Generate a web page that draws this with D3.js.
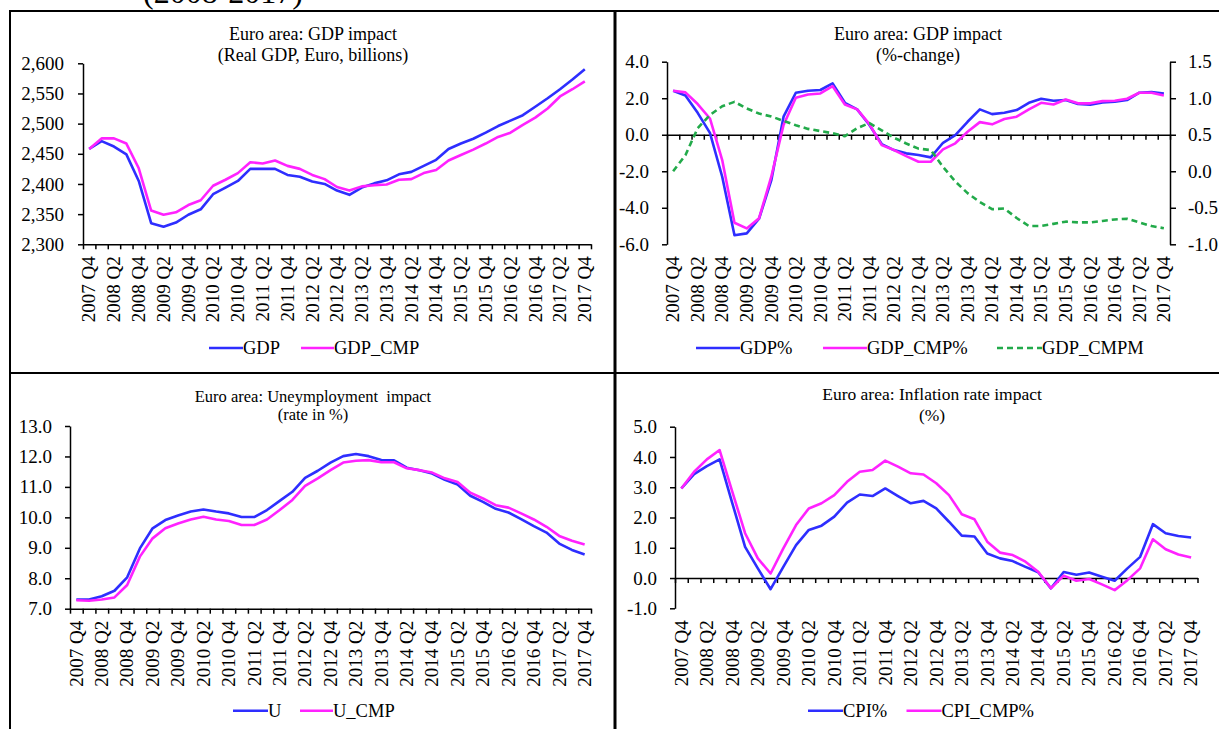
<!DOCTYPE html>
<html><head><meta charset="utf-8">
<script src="https://cdn.jsdelivr.net/npm/d3@7"></script>
<style>
body{margin:0;background:#fff}
svg{display:block}
text{font-family:"Liberation Serif","Times New Roman",serif;fill:#000;white-space:pre}
</style>
</head><body><svg id="c" width="1219" height="729"></svg>
<script>
const quarters = ["2007 Q4",
 "2008 Q1","2008 Q2","2008 Q3","2008 Q4","2009 Q1","2009 Q2","2009 Q3","2009 Q4",
 "2010 Q1","2010 Q2","2010 Q3","2010 Q4","2011 Q1","2011 Q2","2011 Q3","2011 Q4",
 "2012 Q1","2012 Q2","2012 Q3","2012 Q4","2013 Q1","2013 Q2","2013 Q3","2013 Q4",
 "2014 Q1","2014 Q2","2014 Q3","2014 Q4","2015 Q1","2015 Q2","2015 Q3","2015 Q4",
 "2016 Q1","2016 Q2","2016 Q3","2016 Q4","2017 Q1","2017 Q2","2017 Q3","2017 Q4"];
const labelQuarters = quarters.filter((q,i)=>i%2===0);

const gdp = [2458,2471,2462,2449,2405,2335,2329,2336,2349,2358,2383,2394,2405,2425,2425,2425,2415,2412,2404,2400,2389,2382,2394,2401,2406,2416,2420,2430,2440,2458,2467,2475,2485,2496,2505,2514,2528,2542,2557,2573,2590];
const gdpCmp = [2458,2475.5,2475.5,2467,2426,2356,2349,2353,2365,2373,2397,2407,2418,2436,2434,2439,2430,2425,2415,2408,2395,2389,2396,2398,2399,2407,2408,2418,2423,2439,2448,2457,2467,2478,2485,2498,2510,2525,2545,2557,2570];

const gdpPct = [2.41,2.15,1.2,0.1,-2.3,-5.5,-5.4,-4.6,-2.5,0.99,2.3,2.41,2.45,2.81,1.75,1.39,0.53,-0.51,-0.84,-1.02,-1.11,-1.24,-0.44,-0.02,0.71,1.39,1.13,1.2,1.35,1.75,1.97,1.86,1.9,1.68,1.64,1.77,1.81,1.9,2.3,2.34,2.26];
const gdpCmpPct = [2.41,2.32,1.68,0.89,-1.39,-4.82,-5.13,-4.58,-2.3,0.53,2.03,2.2,2.26,2.66,1.66,1.39,0.58,-0.57,-0.84,-1.17,-1.48,-1.48,-0.8,-0.47,0.16,0.69,0.57,0.86,0.99,1.39,1.75,1.66,1.93,1.72,1.72,1.84,1.86,1.97,2.3,2.3,2.15];
const gdpCmpm = [0.0,0.22,0.59,0.77,0.89,0.95,0.86,0.79,0.75,0.69,0.63,0.58,0.55,0.52,0.48,0.59,0.66,0.56,0.46,0.38,0.31,0.29,0.06,-0.14,-0.3,-0.42,-0.52,-0.51,-0.64,-0.75,-0.75,-0.72,-0.69,-0.7,-0.7,-0.68,-0.66,-0.65,-0.7,-0.75,-0.78];

const unemp = [7.3,7.3,7.41,7.59,8.03,8.98,9.64,9.91,10.06,10.19,10.26,10.19,10.13,10.01,10.01,10.24,10.54,10.84,11.3,11.53,11.8,12.01,12.08,12.01,11.88,11.87,11.63,11.55,11.44,11.23,11.08,10.71,10.51,10.28,10.16,9.94,9.71,9.5,9.14,8.93,8.78];
const unempCmp = [7.28,7.26,7.3,7.37,7.78,8.71,9.31,9.64,9.8,9.93,10.02,9.93,9.88,9.75,9.75,9.93,10.24,10.57,11.03,11.28,11.55,11.8,11.86,11.88,11.81,11.81,11.61,11.55,11.47,11.28,11.16,10.81,10.62,10.4,10.32,10.13,9.93,9.69,9.39,9.23,9.11];

const cpi = [2.96,3.43,3.7,3.92,2.47,1.03,0.32,-0.37,0.37,1.09,1.59,1.73,2.03,2.49,2.76,2.71,2.96,2.71,2.47,2.55,2.3,1.86,1.4,1.37,0.81,0.65,0.56,0.37,0.19,-0.34,0.2,0.11,0.18,0.04,-0.09,0.32,0.7,1.78,1.48,1.39,1.34];
const cpiCmp = [2.96,3.51,3.92,4.23,2.85,1.48,0.65,0.15,0.98,1.75,2.3,2.47,2.74,3.18,3.51,3.57,3.88,3.68,3.46,3.42,3.13,2.74,2.11,1.94,1.2,0.84,0.76,0.54,0.21,-0.34,0.08,-0.09,-0.03,-0.21,-0.4,-0.07,0.32,1.28,0.95,0.78,0.68];

const gdpTicks = [2300,2350,2400,2450,2500,2550,2600];
const pctTicks = [-6,-4,-2,0,2,4];
const cmpmTicks = [-1,-0.5,0,0.5,1,1.5];
const uTicks = [7,8,9,10,11,12,13];
const cpiTicks = [-1,0,1,2,3,4,5];

const BLUE = "#2e2eff", MAGENTA = "#ff22ff", GREEN = "#22aa4a";
const svg = d3.select("#c");

// page header (cut off at the top, as in the source) and panel frame
svg.append("text").attr("x",143).attr("y",3).attr("font-size",32).text("(2008-2017)");
const frame = svg.append("g").attr("stroke","#000").attr("fill","none");
frame.append("line").attr("x1",10).attr("x2",1219).attr("y1",11).attr("y2",11).attr("stroke-width",2);
frame.append("line").attr("x1",10).attr("x2",10).attr("y1",10).attr("y2",729).attr("stroke-width",2);
frame.append("line").attr("x1",615).attr("x2",615).attr("y1",10).attr("y2",729).attr("stroke-width",3);
frame.append("line").attr("x1",10).attr("x2",1219).attr("y1",373).attr("y2",373).attr("stroke-width",2);

const f1 = d => d.toFixed(1);
const fc = d3.format(",");

function styleAxis(sel, fs){
  sel.attr("font-family",null).attr("font-size",null);
  sel.selectAll("path.domain").attr("stroke","#000").attr("stroke-width",1.5);
  sel.selectAll(".tick line").attr("stroke","#000").attr("stroke-width",1.5);
  sel.selectAll(".tick text").attr("font-size",fs).attr("fill","#000");
}

function panel(o){
  const g = svg.append("g");
  const x = d3.scaleBand().domain(quarters).range([o.x0,o.x1]);
  const xb = d3.scaleLinear().domain([0,quarters.length]).range([o.x0,o.x1]);
  const y = d3.scaleLinear().domain(o.dom).range([o.yb,o.yt]);

  g.append("g").attr("transform",`translate(${o.x0},0)`)
    .call(d3.axisLeft(y).tickValues(o.ticks).tickFormat(o.fmt).tickSize(5).tickSizeOuter(0).tickPadding(o.pad||13))
    .call(s=>styleAxis(s,19));

  const base = y(o.base);
  g.append("g").attr("transform",`translate(0,${base})`)
    .call(d3.axisBottom(xb).tickValues(d3.range(quarters.length+1)).tickFormat("").tickSize(5).tickSizeOuter(0))
    .call(s=>styleAxis(s,19));

  const lab = g.append("g").attr("transform",`translate(0,${o.yb})`)
    .call(d3.axisBottom(x).tickValues(labelQuarters).tickSize(0).tickPadding(0));
  lab.select("path.domain").remove();
  lab.attr("font-family",null).attr("font-size",null);
  lab.selectAll(".tick text").attr("font-size",19).attr("fill","#000")
    .attr("transform","translate(0,12) rotate(-90)").attr("text-anchor","end")
    .attr("x",0).attr("y",0).attr("dy","0.33em");

  let y2 = null;
  if(o.dom2){
    y2 = d3.scaleLinear().domain(o.dom2).range([o.yb,o.yt]);
    g.append("g").attr("transform",`translate(${o.x1},0)`)
      .call(d3.axisRight(y2).tickValues(o.ticks2).tickFormat(f1).tickSize(6).tickSizeOuter(0).tickPadding(12))
      .call(s=>styleAxis(s,19));
  }

  o.series.forEach(s=>{
    const ys = s.right ? y2 : y;
    const line = d3.line().x((d,i)=>x(quarters[i])+x.bandwidth()/2).y(d=>ys(d));
    g.append("path").datum(s.values).attr("fill","none").attr("stroke",s.color)
      .attr("stroke-width",2.6).attr("stroke-linejoin","round")
      .attr("stroke-dasharray",s.dash||null).attr("d",line);
  });

  o.title.forEach((t,i)=>{
    g.append("text").attr("x",o.tx).attr("y",o.ty[i]).attr("text-anchor","middle")
      .attr("font-size",o.tfs).text(t);
  });

  o.series.forEach(s=>{
    g.append("line").attr("x1",s.lx[0]).attr("x2",s.lx[1]).attr("y1",o.ly).attr("y2",o.ly)
      .attr("stroke",s.color).attr("stroke-width",2.6).attr("stroke-dasharray",s.dash||null);
    g.append("text").attr("x",s.lx[1]).attr("y",o.ly+6).attr("font-size",18.5).text(s.name);
  });
}

panel({x0:83,x1:591,yt:63.3,yb:244.3,dom:[2300,2600],ticks:gdpTicks,fmt:fc,base:2300,pad:14,
  title:["Euro area: GDP impact","(Real GDP, Euro, billions)"],tx:313,ty:[40,61],tfs:18,ly:348,
  series:[{name:"GDP",values:gdp,color:BLUE,lx:[209,243]},
          {name:"GDP_CMP",values:gdpCmp,color:MAGENTA,lx:[301,334]}]});

panel({x0:667,x1:1170,yt:61.7,yb:244.3,dom:[-6,4],ticks:pctTicks,fmt:f1,base:0,
  dom2:[-1,1.5],ticks2:cmpmTicks,
  title:["Euro area: GDP impact","(%-change)"],tx:918,ty:[40,61],tfs:18,ly:348,
  series:[{name:"GDP%",values:gdpPct,color:BLUE,lx:[696,740]},
          {name:"GDP_CMP%",values:gdpCmpPct,color:MAGENTA,lx:[823,867]},
          {name:"GDP_CMPM",values:gdpCmpm,color:GREEN,dash:"6,4",right:true,lx:[997,1042]}]});

panel({x0:70,x1:591,yt:426,yb:608.7,dom:[7,13],ticks:uTicks,fmt:f1,base:7,
  title:["Euro area: Uneymployment  impact","(rate in %)"],tx:313,ty:[402,420],tfs:16.5,ly:710.7,
  series:[{name:"U",values:unemp,color:BLUE,lx:[233,268]},
          {name:"U_CMP",values:unempCmp,color:MAGENTA,lx:[300,333]}]});

panel({x0:675,x1:1197.5,yt:426.7,yb:608.3,dom:[-1,5],ticks:cpiTicks,fmt:f1,base:0,
  title:["Euro area: Inflation rate impact","(%)"],tx:932,ty:[400,421],tfs:17.5,ly:710.7,
  series:[{name:"CPI%",values:cpi,color:BLUE,lx:[808,843]},
          {name:"CPI_CMP%",values:cpiCmp,color:MAGENTA,lx:[906.5,941.5]}]});
</script>
</body></html>
